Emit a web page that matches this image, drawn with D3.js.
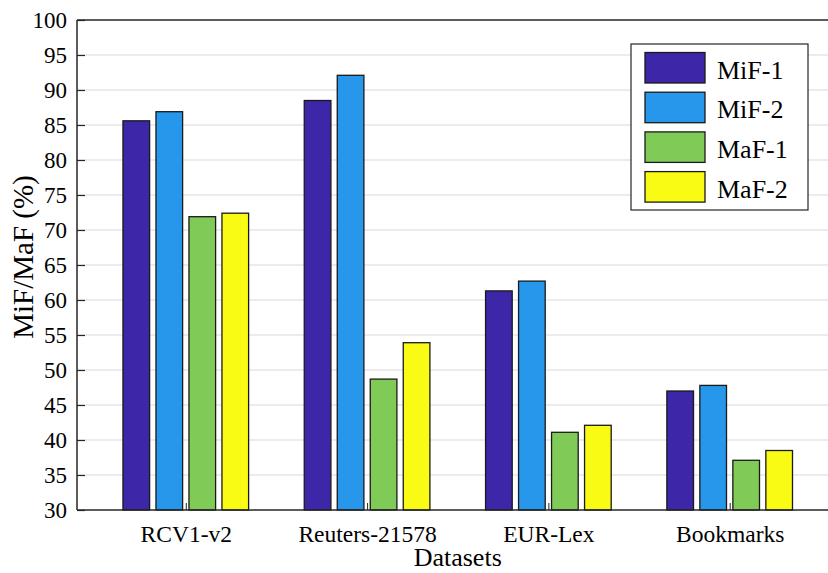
<!DOCTYPE html>
<html>
<head>
<meta charset="utf-8">
<script src="https://cdn.jsdelivr.net/npm/d3@7"></script>
<style>
  body { margin: 0; background: #fff; }
  svg text { font-family: "Liberation Serif", "Times New Roman", serif; fill: #000; }
</style>
</head>
<body>
<div id="chart"></div>
<script>
// datasets and series
const datasets = ['RCV1-v2', 'Reuters-21578', 'EUR-Lex', 'Bookmarks'];
const seriesNames = ['MiF-1', 'MiF-2', 'MaF-1', 'MaF-2'];
const mif1 = [85.6, 88.5, 61.3, 47.0];
const mif2 = [86.9, 92.1, 62.7, 47.8];
const maf1 = [71.9, 48.7, 41.1, 37.1];
const maf2 = [72.4, 53.9, 42.1, 38.5];
const yTicks = [30, 35, 40, 45, 50, 55, 60, 65, 70, 75, 80, 85, 90, 95, 100];
const colors = ['#3e26a8', '#2797eb', '#80cb58', '#f9fb15'];

const series = [mif1, mif2, maf1, maf2];

const W = 828, H = 573;
const margin = { top: 20, left: 77, bottom: 63 };

// x is continuous over category index, like matlab bar xlim [0.4 4.6]
// (the axes run past the right edge of the picture)
const unit = 181.3;
const x = d3.scaleLinear().domain([0.4, 4.6]).range([margin.left, margin.left + 4.2 * unit]);
const y = d3.scaleLinear().domain([30, 100]).range([H - margin.bottom, margin.top]);

const barStep = 0.182;   // distance between bars inside group
const barW = 0.147;

const svg = d3.select('#chart').append('svg')
  .attr('width', W)
  .attr('height', H);

// grid lines
svg.append('g').selectAll('line')
  .data(yTicks.slice(1, -1))
  .enter().append('line')
  .attr('x1', x(0.4)).attr('x2', x(4.6))
  .attr('y1', d => y(d)).attr('y2', d => y(d))
  .attr('stroke', '#e6e6e6')
  .attr('stroke-width', 1.5);

// bars
const groups = svg.append('g').selectAll('g')
  .data(series)
  .enter().append('g')
  .attr('fill', (d, i) => colors[i]);

groups.each(function (vals, si) {
  d3.select(this).selectAll('rect')
    .data(vals)
    .enter().append('rect')
    .attr('x', (d, ci) => x(ci + 1 + (si - 1.5) * barStep - barW / 2))
    .attr('width', x(barW) - x(0))
    .attr('y', d => y(d))
    .attr('height', d => y(30) - y(d))
    .attr('stroke', '#1a1a1a')
    .attr('stroke-width', 1.3);
});

// axes
const yAxis = svg.append('g')
  .attr('transform', `translate(${margin.left},0)`)
  .call(d3.axisLeft(y).tickValues(yTicks).tickSize(-8).tickPadding(10));
yAxis.select('.domain').remove();
yAxis.selectAll('.tick line').attr('stroke', '#262626').attr('stroke-width', 1.2);
yAxis.selectAll('.tick text').style('font-size', '23px');

const xAxis = svg.append('g')
  .attr('transform', `translate(0,${y(30)})`)
  .call(d3.axisBottom(x).tickValues([1, 2, 3, 4]).tickFormat((d, i) => datasets[i]).tickSize(-7).tickPadding(15));
xAxis.select('.domain').remove();
xAxis.selectAll('.tick line').attr('stroke', '#262626').attr('stroke-width', 1);
xAxis.selectAll('.tick text').style('font-size', '23.5px');

// frame lines
svg.append('line')
  .attr('x1', margin.left).attr('x2', x(4.6))
  .attr('y1', y(30)).attr('y2', y(30))
  .attr('stroke', '#262626').attr('stroke-width', 1.5);
svg.append('line')
  .attr('x1', margin.left).attr('x2', x(4.6))
  .attr('y1', y(100)).attr('y2', y(100))
  .attr('stroke', '#262626').attr('stroke-width', 1.5);
svg.append('line')
  .attr('x1', margin.left).attr('x2', margin.left)
  .attr('y1', y(30)).attr('y2', y(100))
  .attr('stroke', '#262626').attr('stroke-width', 1.5);

// axis titles
svg.append('text')
  .attr('x', (x(0.4) + x(4.6)) / 2).attr('y', 566)
  .attr('text-anchor', 'middle')
  .style('font-size', '26px')
  .text('Datasets');

svg.append('text')
  .attr('transform', 'translate(33,257) rotate(-90)')
  .attr('text-anchor', 'middle')
  .style('font-size', '29px')
  .text('MiF/MaF (%)');

// legend
const legend = svg.append('g').attr('transform', 'translate(631,44)');
legend.append('rect')
  .attr('width', 177).attr('height', 166)
  .attr('fill', '#fff')
  .attr('stroke', '#262626').attr('stroke-width', 1.2);

const items = legend.selectAll('g.item')
  .data(seriesNames)
  .enter().append('g')
  .attr('class', 'item')
  .attr('transform', (d, i) => `translate(14,${8.5 + i * 39.7})`);

items.append('rect')
  .attr('width', 60).attr('height', 30.5)
  .attr('fill', (d, i) => colors[i])
  .attr('stroke', '#1a1a1a').attr('stroke-width', 1.3);

items.append('text')
  .attr('x', 72).attr('y', 26)
  .style('font-size', '26px')
  .text(d => d);
</script>
</body>
</html>
